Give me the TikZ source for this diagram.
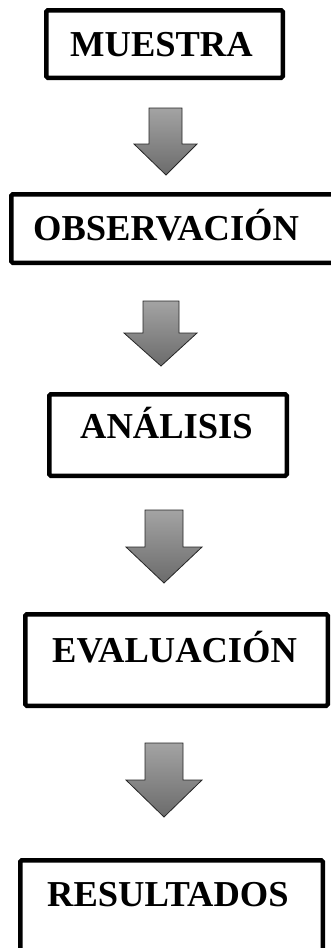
\documentclass[tikz,border=0pt]{standalone}
\usepackage{fontspec}
\setmainfont{Liberation Serif}
\begin{document}
\begin{tikzpicture}[x=1pt,y=-1pt,
  boxst/.style={draw=black, line width=4.5pt, rounded corners=1.5pt, fill=white, inner sep=0pt},
  lbl/.style={inner sep=0pt, anchor=base west, font=\bfseries\fontsize{36.5}{40}\selectfont},
  blockarrow/.style={draw=black!85, line width=0.8pt, top color=black!36, bottom color=black!58, line join=miter}]
\path[use as bounding box] (0,0) rectangle (331,948);
\clip (0,0) rectangle (331,948);
% boxes
\node[boxst, minimum width=236.5pt, minimum height=67.5pt] (b1) at (164.5,44) {};
\node[boxst, minimum width=326.5pt, minimum height=68.5pt] (b2) at (174.5,228.5) {};
\node[boxst, minimum width=237.5pt, minimum height=81.5pt] (b3) at (168,435) {};
\node[boxst, minimum width=302.5pt, minimum height=91.5pt] (b4) at (176.5,660) {};
\node[boxst, minimum width=302.5pt, minimum height=107.5pt] (b5) at (171.5,914) {};
% labels
\node[lbl] (t1) at (70,56) {MUESTRA};
\node[lbl] (t2) at (33,240) {OBSERVACIÓN};
\node[lbl] (t3) at (80,438) {ANÁLISIS};
\node[lbl] (t4) at (52,662) {EVALUACIÓN};
\node[lbl] (t5) at (47,906) {RESULTADOS};
% block arrows
\draw[blockarrow] (149,108) -- (182,108) -- (182,144) -- (197,144) -- (166,175) -- (134,144) -- (149,144) -- cycle;
\draw[blockarrow] (143,301) -- (179,301) -- (179,333) -- (197,333) -- (161,366) -- (124,333) -- (143,333) -- cycle;
\draw[blockarrow] (145,510) -- (183,510) -- (183,547) -- (202,547) -- (164,583) -- (126,547) -- (145,547) -- cycle;
\draw[blockarrow] (145,743) -- (183,743) -- (183,780) -- (202,780) -- (164,817) -- (126,780) -- (145,780) -- cycle;
\end{tikzpicture}
\end{document}
